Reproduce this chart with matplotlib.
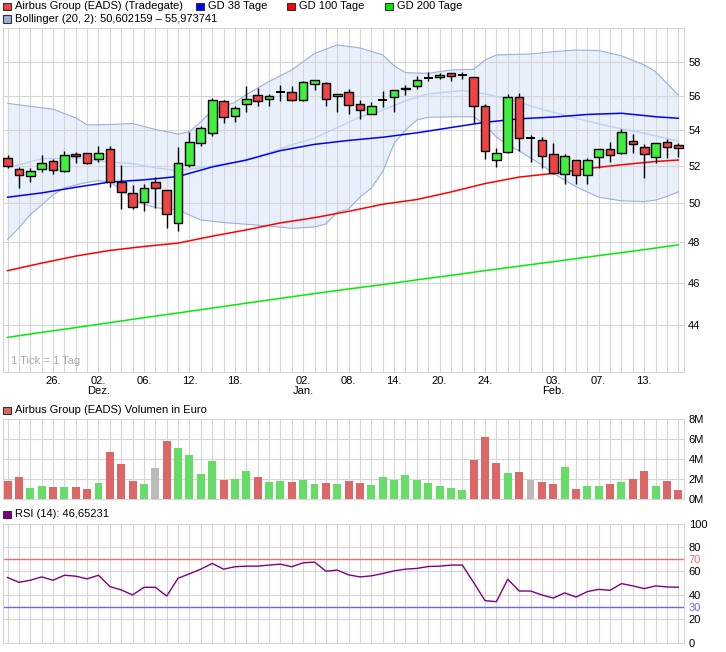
import matplotlib
matplotlib.use('Agg')
import matplotlib.pyplot as plt
from matplotlib.patches import Rectangle
from matplotlib.ticker import NullLocator

plt.rcParams['font.family'] = ['Liberation Sans', 'DejaVu Sans']
plt.rcParams['font.size'] = 8

# ---- daten (gelesen aus dem chart) ----
opens = [52.43, 51.85, 51.44, 51.82, 52.29, 51.75, 52.66, 52.70, 52.37, 52.92,
         51.12, 50.53, 50.05, 51.12, 50.69, 48.96, 52.06, 53.29, 53.82, 55.67,
         54.83, 55.53, 56.02, 55.78, 56.23, 56.20, 55.73, 56.67, 56.75, 55.96,
         56.20, 55.49, 54.95, 55.74, 55.90, 56.38, 56.57, 57.03, 57.13, 57.35,
         57.23, 57.09, 55.37, 52.33, 52.76, 55.90, 53.56, 53.43, 52.65, 51.55,
         52.32, 51.50, 52.50, 52.92, 52.70, 53.37, 53.04, 52.50, 53.32, 53.15]
highs = [52.61, 51.96, 51.88, 52.61, 52.37, 52.83, 52.79, 52.72, 53.11, 53.11,
         52.06, 50.97, 51.03, 51.39, 50.72, 53.07, 53.91, 54.24, 55.84, 55.72,
         55.39, 56.57, 56.43, 56.10, 56.61, 56.57, 56.85, 56.93, 56.81, 56.12,
         56.39, 55.73, 55.63, 56.27, 56.35, 56.63, 57.17, 57.39, 57.37, 57.37,
         57.39, 57.12, 55.51, 52.98, 56.08, 56.14, 53.73, 53.63, 53.26, 52.65,
         52.34, 52.43, 52.94, 53.32, 54.05, 53.77, 53.22, 53.28, 53.48, 53.26]
lows = [51.88, 50.80, 51.15, 51.69, 51.57, 51.69, 52.18, 52.13, 52.24, 50.88,
        49.69, 49.69, 49.61, 49.74, 48.70, 48.58, 51.96, 53.11, 53.67, 54.39,
        54.49, 55.06, 55.41, 55.41, 55.70, 55.69, 55.70, 56.35, 55.41, 55.06,
        54.93, 54.62, 54.93, 55.35, 55.06, 56.04, 56.38, 56.89, 56.97, 56.89,
        56.97, 54.39, 52.37, 51.93, 52.74, 52.83, 52.24, 51.88, 51.57, 51.01,
        51.01, 51.01, 51.88, 52.24, 52.68, 52.70, 51.33, 52.15, 52.43, 52.48]
closes = [52.02, 51.50, 51.71, 52.15, 51.77, 52.59, 52.54, 52.15, 52.70, 51.12,
          50.58, 49.82, 50.80, 50.80, 49.42, 52.18, 53.32, 54.11, 55.73, 54.74,
          55.29, 55.78, 55.70, 55.96, 56.23, 55.76, 56.81, 56.91, 55.78, 56.10,
          55.43, 55.14, 55.37, 55.74, 56.33, 56.45, 56.91, 57.03, 57.21, 57.17,
          57.23, 55.37, 52.81, 52.70, 55.94, 53.54, 53.56, 52.54, 51.60, 52.54,
          51.50, 52.32, 52.92, 52.59, 53.88, 53.20, 52.65, 53.26, 53.04, 52.98]

# volumen in mio. euro, farbe: r = runter, g = hoch, n = unveraendert
volume = [1.8, 2.2, 1.1, 1.3, 1.2, 1.2, 1.2, 1.0, 1.6, 4.7,
          3.5, 1.8, 1.5, 3.1, 5.8, 5.1, 4.4, 2.5, 3.8, 1.9,
          2.0, 2.8, 2.2, 1.7, 1.8, 1.7, 1.9, 1.5, 1.6, 1.5,
          1.8, 1.6, 1.4, 2.2, 1.9, 2.4, 1.9, 1.6, 1.3, 1.1,
          0.9, 3.9, 6.2, 3.6, 2.6, 2.7, 1.9, 1.7, 1.5, 3.2,
          1.0, 1.3, 1.3, 1.5, 1.7, 2.0, 2.8, 1.3, 1.8, 0.9]
vol_dir = list("rrggrgrrgrrrgnrggggrggrggrggrgrrgggggggggrrrgrnrrgrggrgrrgrr")

rsi = [54.8, 50.8, 52.5, 55.3, 52.5, 56.7, 55.9, 53.7, 56.7, 47.2,
       44.4, 40.2, 46.6, 46.6, 39.3, 54.2, 57.9, 61.8, 66.6, 61.8,
       63.8, 64.3, 64.3, 65.2, 66.0, 63.8, 67.1, 67.7, 60.1, 61.0,
       57.0, 55.3, 56.2, 58.1, 60.4, 61.8, 62.4, 64.0, 64.3, 65.2,
       65.2, 50.6, 35.4, 34.6, 53.4, 43.5, 43.5, 40.2, 37.6, 41.9,
       38.5, 43.0, 44.9, 44.1, 49.7, 47.8, 45.5, 47.8, 46.9, 46.65]

# bollinger baender (20, 2)
bb_up_idx = [0, 2, 4, 6, 7, 9, 11, 13, 15, 16, 17, 18, 19, 20, 21, 23, 25, 27, 29, 31,
             33, 34, 35, 37, 39, 41, 42, 43, 46, 48, 50, 52, 54, 56, 57, 58, 59]
bb_upper = [55.55, 55.37, 55.21, 54.70, 54.30, 54.32, 54.38, 54.04, 53.78, 53.91, 54.48,
            55.15, 55.39, 55.60, 56.06, 56.84, 57.53, 58.54, 59.07, 58.88, 58.45, 57.78,
            57.37, 57.33, 57.53, 57.57, 58.14, 58.45, 58.51, 58.65, 58.75, 58.72, 58.39,
            57.84, 57.43, 56.73, 56.04]
bb_lo_idx = [0, 1, 2, 3, 4, 5, 7, 8, 9, 10, 11, 12, 13, 14, 15, 17, 19, 21, 23, 25, 27,
             28, 29, 30, 31, 32, 33, 34, 35, 36, 37, 40, 41, 42, 43, 44, 45, 47, 48, 50,
             52, 54, 56, 57, 58, 59]
bb_lower = [48.14, 48.72, 49.41, 49.91, 50.44, 50.82, 51.12, 51.21, 51.12, 50.73, 50.20,
            49.94, 49.78, 49.69, 49.65, 49.13, 49.00, 48.91, 48.82, 48.70, 48.77, 48.92,
            49.54, 49.70, 50.33, 50.81, 51.69, 53.25, 54.00, 54.58, 54.74, 54.77, 54.77,
            54.30, 53.61, 53.17, 52.83, 52.06, 51.60, 50.88, 50.32, 50.13, 50.09, 50.17,
            50.36, 50.61]
bb_mid_idx = [0, 3, 6, 8, 11, 13, 15, 17, 21, 25, 27, 29, 31, 33, 35, 37, 40, 42, 44,
              47, 50, 53, 56, 59]
bb_mid = [51.90, 52.40, 52.45, 52.27, 52.13, 51.90, 51.75, 51.91, 52.30, 53.17, 53.55,
          54.15, 54.75, 55.15, 55.70, 56.10, 56.30, 56.10, 55.80, 55.20, 54.68, 54.21,
          53.83, 53.37]

# gleitende durchschnitte
gd_idx = [0, 3, 6, 9, 12, 15, 18, 21, 24, 27, 30, 33, 36, 39, 42, 45, 48, 51, 54, 57, 59]
gd38 = [50.32, 50.55, 50.85, 51.13, 51.25, 51.43, 51.95, 52.33, 52.85, 53.20, 53.42,
        53.60, 53.85, 54.15, 54.45, 54.65, 54.75, 54.90, 54.97, 54.77, 54.68]
gd100 = [46.58, 46.95, 47.30, 47.58, 47.78, 47.95, 48.30, 48.62, 48.98, 49.25, 49.58,
         49.95, 50.20, 50.60, 51.05, 51.40, 51.60, 51.86, 52.07, 52.25, 52.33]
gd200 = [43.42, 43.65, 43.87, 44.10, 44.33, 44.55, 44.78, 45.01, 45.24, 45.47, 45.69,
         45.90, 46.13, 46.35, 46.58, 46.80, 47.02, 47.25, 47.47, 47.70, 47.86]

tick_idx = [4, 8, 12, 16, 20, 26, 30, 34, 38, 42, 48, 52, 56]
tick_lbl = ['26.', '02.\nDez.', '06.', '12.', '18.', '02.\nJan.', '08.', '14.', '20.', '24.',
            '03.\nFeb.', '07.', '13.']
price_ticks = [44, 46, 48, 50, 52, 54, 56, 58]

GRID = '#d6d6d6'
W, H = 726, 652

fig = plt.figure(figsize=(W / 100, H / 100), dpi=100)
fig.patch.set_facecolor('white')


def box(l, t, r, b):
    return [l / W, 1 - b / H, (r - l) / W, (b - t) / H]


ax = fig.add_axes(box(3, 28, 684, 371.7))
axv = fig.add_axes(box(3, 419, 684, 499))
axr = fig.add_axes(box(3, 523.5, 684, 643))

x = list(range(len(closes)))

for a in (ax, axv, axr):
    a.set_xlim(-0.4, 59.5)
    for s in a.spines.values():
        s.set_color(GRID)
        s.set_linewidth(0.8)
    for i in x:
        a.axvline(i, color=GRID, lw=0.8, zorder=1.5)
    a.tick_params(length=0, colors='black', labelsize=8)
    a.yaxis.tick_right()

# ---- kurs chart ----
ax.set_yscale('log')
ax.set_ylim(41.88, 60.13)
ax.set_yticks(price_ticks, [str(p) for p in price_ticks])
ax.yaxis.set_minor_locator(NullLocator())
ax.tick_params(axis='y', pad=3)
for p in price_ticks:
    ax.axhline(p, color=GRID, lw=0.8, zorder=1.5)

ax.fill(bb_up_idx + bb_lo_idx[::-1], bb_upper + bb_lower[::-1], color='#e8f0fc', lw=0, zorder=1)
ax.plot(bb_up_idx, bb_upper, color='#9ab0dc', lw=0.8, zorder=2)
ax.plot(bb_lo_idx, bb_lower, color='#9ab0dc', lw=0.8, zorder=2)
ax.plot(bb_mid_idx, bb_mid, color='#bcd2f4', lw=1.0, zorder=2)
ax.plot(gd_idx, gd38, color='#0000ff', lw=1.1, zorder=2.2)
ax.plot(gd_idx, gd100, color='#ff0000', lw=1.1, zorder=2.2)
ax.plot(gd_idx, gd200, color='#00ee00', lw=1.1, zorder=2.2)

for i in x:
    o, h, l, c = opens[i], highs[i], lows[i], closes[i]
    ax.vlines(i, l, h, color='black', lw=1.0, zorder=3)
    if abs(c - o) < 0.005:
        ax.hlines(o, i - 0.38, i + 0.38, color='black', lw=1.4, zorder=4)
    else:
        col = '#3cf03c' if c > o else '#f04444'
        ax.bar(i, abs(c - o), bottom=min(o, c), width=0.76, color=col,
               edgecolor='black', lw=1.0, zorder=4)

ax.set_xticks(tick_idx, tick_lbl)
ax.tick_params(axis='x', pad=3)
for lb in ax.get_xticklabels():
    lb.set_linespacing(1.0)
ax.text(8 / 681, 0.018, '1 Tick = 1 Tag', transform=ax.transAxes, color='#a8a8a8',
        fontsize=8, va='bottom', ha='left')

# ---- volumen ----
vcols = {'r': '#dd6666', 'g': '#66dd66', 'n': '#bbbbbb'}
axv.bar(x, volume, width=0.7, color=[vcols[d] for d in vol_dir], zorder=3)
axv.set_ylim(0, 8)
axv.set_yticks([0, 2, 4, 6, 8], ['0M', '2M', '4M', '6M', '8M'])
for v in [2, 4, 6]:
    axv.axhline(v, color=GRID, lw=0.8, zorder=1.5)
axv.set_xticks([])

# ---- rsi ----
axr.plot(x, rsi, color='#800080', lw=1.0, zorder=3)
axr.axhline(70, color='#ff6666', lw=1.0, zorder=2)
axr.axhline(30, color='#6666ff', lw=1.0, zorder=2)
for v in [20, 40, 60, 80]:
    axr.axhline(v, color=GRID, lw=0.8, zorder=1.5)
axr.set_ylim(0, 100)
axr.set_yticks([0, 20, 30, 40, 60, 70, 80, 100])
for lb in axr.get_yticklabels():
    if lb.get_text() == '70':
        lb.set_color('#ff6666')
    elif lb.get_text() == '30':
        lb.set_color('#6666ff')
axr.set_xticks([])


# ---- legenden ----
def legend(px, py, col, txt):
    fig.patches.append(Rectangle((px / W, 1 - (py + 4) / H), 7.5 / W, 7.5 / H,
                                 transform=fig.transFigure, facecolor=col,
                                 edgecolor='#333333', lw=0.8))
    fig.text((px + 12) / W, 1 - py / H, txt, va='center', ha='left', fontsize=8)


legend(3, 6, '#ee4444', 'Airbus Group (EADS) (Tradegate)')
legend(196, 6, '#0000ff', 'GD 38 Tage')
legend(287, 6, '#ff0000', 'GD 100 Tage')
legend(385, 6, '#00ee00', 'GD 200 Tage')
legend(3, 18.5, '#9ab0dc', 'Bollinger (20, 2): 50,602159 \u2013 55,973741')
legend(3, 410, '#dd6666', 'Airbus Group (EADS) Volumen in Euro')
legend(3, 514, '#800080', 'RSI (14): 46,65231')

fig.savefig('out.png', dpi=100, facecolor='white')
